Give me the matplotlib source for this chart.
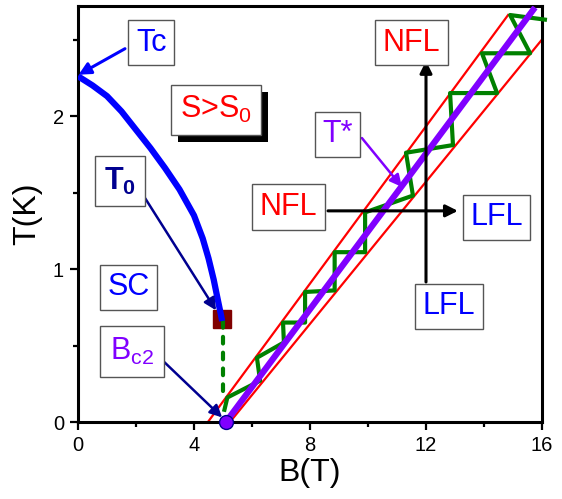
import matplotlib
matplotlib.use("Agg")
import matplotlib.pyplot as plt
import matplotlib.patheffects as pe
import numpy as np

plt.rcParams['font.family'] = ['Liberation Sans', 'DejaVu Sans']
plt.rcParams['mathtext.fontset'] = 'custom'
plt.rcParams['mathtext.rm'] = 'Liberation Sans'
plt.rcParams['mathtext.it'] = 'Liberation Sans:italic'
plt.rcParams['mathtext.bf'] = 'Liberation Sans:bold'

# Tc(B) line
tc_B = [0.0, 0.5, 1.0, 1.5, 2.0, 2.5, 3.0, 3.5, 4.0, 4.3, 4.5, 4.68, 4.82, 4.93, 4.97]
tc_T = [2.26, 2.20, 2.13, 2.03, 1.91, 1.79, 1.66, 1.52, 1.35, 1.20, 1.07, 0.93, 0.80, 0.70, 0.66]

# T0 point and Bc2 point
t0_B, t0_T = 4.97, 0.67
bc2_B, bc2_T = 5.1, 0.0

# green dashed drop from T0
drop_B = [5.0, 5.0]
drop_T = [0.66, 0.17]

# T* line
tstar_B = [5.1, 15.76]
tstar_T = [0.0, 2.71]

# red crossover-width lines
red_left_B = [4.48, 14.83]
red_left_T = [0.0, 2.66]
red_right_B = [5.24, 16.0]
red_right_T = [0.0, 2.50]

# green zigzag
zz_B = [5.05, 5.15, 6.28, 6.17, 7.1, 7.07, 7.83, 7.83, 8.85, 8.85, 9.9, 9.9,
        11.55, 11.31, 12.93, 12.83, 14.45, 13.93, 15.59, 14.9, 16.1]
zz_T = [0.08, 0.16, 0.27, 0.42, 0.52, 0.65, 0.65, 0.85, 0.86, 1.11, 1.11, 1.37,
        1.48, 1.76, 1.81, 2.15, 2.15, 2.41, 2.41, 2.66, 2.63]

fig = plt.figure(figsize=(5.62, 4.99), dpi=100)
ax = fig.add_axes([78 / 562, 77 / 499, 464 / 562, 416 / 499])

BLUE = '#0000FF'
NAVY = '#000090'
PURPLE = '#8000FF'
RED = '#FF0000'
GREEN = '#008000'

ax.plot(red_left_B, red_left_T, color=RED, lw=1.6, zorder=2)
ax.plot(red_right_B, red_right_T, color=RED, lw=1.6, zorder=2)
ax.plot(zz_B, zz_T, color=GREEN, lw=3, zorder=3, clip_on=False)
ax.plot(tstar_B, tstar_T, color=PURPLE, lw=4.5, zorder=4, solid_capstyle='butt')
ax.plot([t0_B], [t0_T], marker='s', ms=13, color='#800000', zorder=5, ls='none')
ax.plot(drop_B, drop_T, color=GREEN, lw=3, ls=(0, (1.6, 2.2)),
        dash_capstyle='round', zorder=6)
ax.plot(tc_B, tc_T, color=BLUE, lw=4.5, zorder=6, solid_capstyle='butt',
        solid_joinstyle='round')
ax.plot([bc2_B], [bc2_T], marker='o', ms=10, mfc=PURPLE, mec=NAVY, mew=1,
        zorder=8, ls='none', clip_on=False)


def arrow(x0, y0, x1, y1, color, lw, ms=18):
    ax.annotate('', xy=(x1, y1), xytext=(x0, y0),
                arrowprops=dict(arrowstyle='-|>', color=color, lw=lw,
                                mutation_scale=ms, shrinkA=0, shrinkB=0),
                zorder=7)


arrow(1.62, 2.44, 0.02, 2.27, BLUE, 2.2)
arrow(2.07, 1.536, 4.76, 0.73, NAVY, 1.8)
arrow(2.83, 0.418, 4.97, 0.03, NAVY, 1.8)
arrow(9.79, 1.856, 11.17, 1.536, PURPLE, 1.8)
arrow(8.62, 1.38, 13.1, 1.38, 'black', 2.2)
arrow(12.0, 0.915, 12.0, 2.36, 'black', 2.2)


def label(x, y, s, color, fs=22, pad=0.25):
    return ax.text(x, y, s, color=color, fontsize=fs, ha='center', va='center',
                   zorder=9,
                   bbox=dict(boxstyle='square,pad=%g' % pad, fc='white',
                             ec='#555555', lw=1))


label(2.53, 2.48, 'Tc', BLUE)
s0 = label(4.76, 2.04, r'S>S$_\mathrm{0}$', RED, pad=0.3)
s0.get_bbox_patch().set_path_effects([
    pe.SimplePatchShadow(offset=(5, -5), shadow_rgbFace='black', alpha=1),
    pe.Normal()])
label(1.45, 1.575, r'$\mathbf{T_0}$', NAVY, pad=0.3)
label(1.74, 0.88, 'SC', BLUE)
label(1.86, 0.46, r'B$_\mathrm{c2}$', PURPLE, pad=0.33)
label(11.5, 2.48, 'NFL', RED)
label(8.95, 1.88, 'T*', PURPLE)
label(7.26, 1.405, 'NFL', RED)
label(14.43, 1.337, 'LFL', BLUE)
label(12.78, 0.755, 'LFL', BLUE)

ax.set_xlim(0, 16)
ax.set_ylim(0, 2.719)
ax.set_xticks([0, 4, 8, 12, 16])
ax.set_xticks([2, 6, 10, 14], minor=True)
ax.set_yticks([0, 1, 2])
ax.set_yticks([0.5, 1.5, 2.5], minor=True)
ax.tick_params(which='major', length=6, width=1.6, labelsize=14.5, pad=4)
ax.tick_params(which='minor', length=3.5, width=1.6)
for sp in ax.spines.values():
    sp.set_linewidth(2.2)
ax.set_xlabel('B(T)', fontsize=23, labelpad=2)
ax.set_ylabel('T(K)', fontsize=23, labelpad=8)

fig.savefig('out.png', dpi=100)
